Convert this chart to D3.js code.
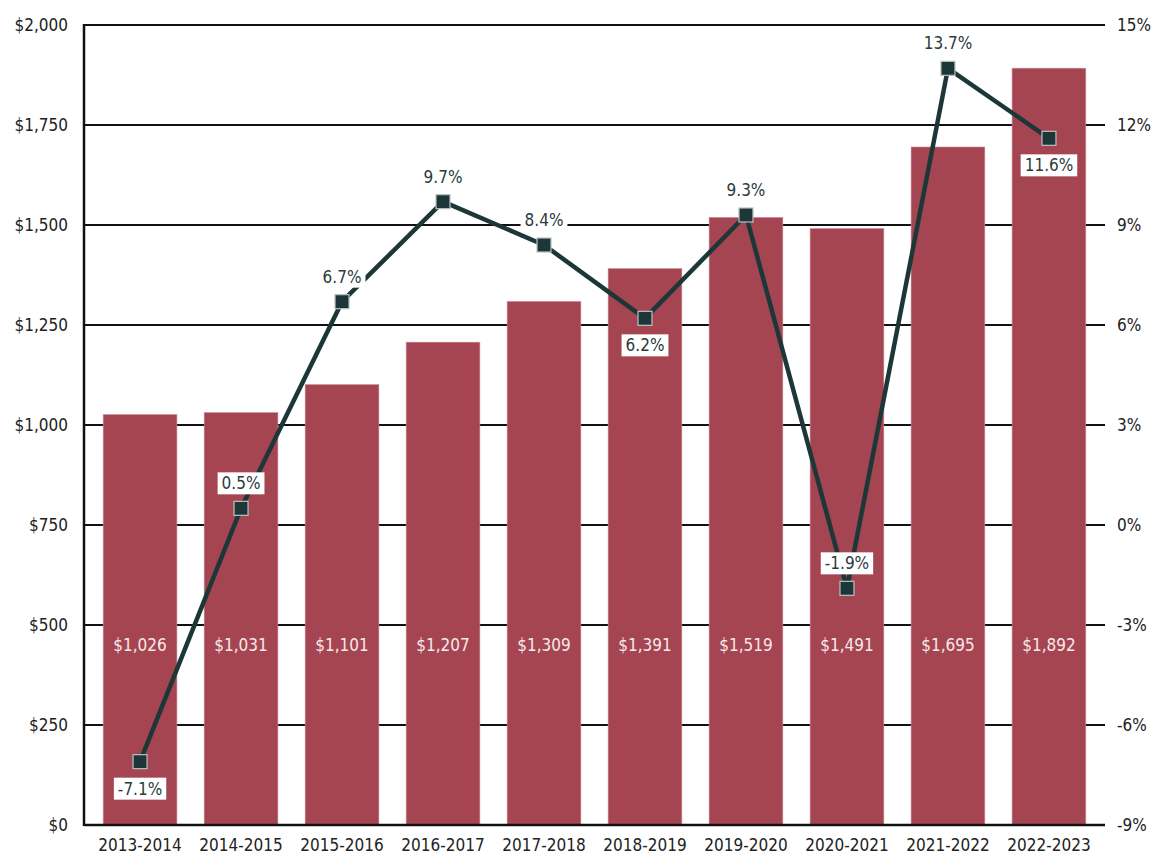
<!DOCTYPE html>
<html>
<head>
<meta charset="utf-8">
<script src="https://cdn.jsdelivr.net/npm/d3@7"></script>
<style>
  body { margin: 0; background: #fff; }
  text { font-family: "Liberation Sans Narrow", "DejaVu Sans Condensed", sans-serif; }
</style>
</head>
<body>
<div id="chart"></div>
<script>
const width = 1170
const height = 865

// data
const years = ["2013-2014", "2014-2015", "2015-2016", "2016-2017", "2017-2018",
  "2018-2019", "2019-2020", "2020-2021", "2021-2022", "2022-2023"];
const amounts = [1026, 1031, 1101, 1207, 1309, 1391, 1519, 1491, 1695, 1892];
const pctChange = [-7.1, 0.5, 6.7, 9.7, 8.4, 6.2, 9.3, -1.9, 13.7, 11.6];
const labelBelow = [true, false, false, false, false, true, false, false, false, true];
const leftTicks = [0, 250, 500, 750, 1000, 1250, 1500, 1750, 2000];
const rightTicks = [-9, -6, -3, 0, 3, 6, 9, 12, 15];

const plotLeft = 84, plotRight = 1105, plotTop = 25, plotBottom = 825;

const svg = d3.select("#chart")
  .append("svg")
  .attr("width", width)
  .attr("height", height)

const x = d3.scaleBand()
  .domain(years)
  .range([plotLeft, plotRight])
  .paddingInner(0.27)
  .paddingOuter(0.19)

const yAmt = d3.scaleLinear().domain([0, 2000]).range([plotBottom, plotTop])
const yPct = d3.scaleLinear().domain([-9, 15]).range([plotBottom, plotTop])

// gridlines
svg.append("g")
  .selectAll("line")
  .data(leftTicks)
  .join("line")
  .attr("x1", plotLeft)
  .attr("x2", plotRight)
  .attr("y1", d => yAmt(d))
  .attr("y2", d => yAmt(d))
  .attr("stroke", "#111")
  .attr("stroke-width", 2)

// bars
svg.append("g")
  .selectAll("rect")
  .data(amounts)
  .join("rect")
  .attr("x", (d, i) => x(years[i]))
  .attr("y", d => yAmt(d))
  .attr("width", x.bandwidth())
  .attr("height", d => plotBottom - yAmt(d))
  .attr("fill", "#a54552")
  .attr("stroke", "#c98a93")
  .attr("stroke-width", 0.6)

// value labels inside bars
svg.append("g")
  .selectAll("text")
  .data(amounts)
  .join("text")
  .attr("x", (d, i) => x(years[i]) + x.bandwidth() / 2)
  .attr("y", yAmt(500) + 26)
  .attr("text-anchor", "middle")
  .attr("font-size", 17)
  .attr("fill", "#f7e9eb")
  .text(d => "$" + d3.format(",")(d))

// axes lines
svg.append("line")
  .attr("x1", plotLeft).attr("x2", plotLeft)
  .attr("y1", plotTop - 1).attr("y2", plotBottom + 1)
  .attr("stroke", "#111").attr("stroke-width", 2.5)
svg.append("line")
  .attr("x1", plotLeft).attr("x2", plotRight)
  .attr("y1", plotBottom).attr("y2", plotBottom)
  .attr("stroke", "#111").attr("stroke-width", 2.5)

// left tick labels
svg.append("g")
  .selectAll("text")
  .data(leftTicks)
  .join("text")
  .attr("x", plotLeft - 16)
  .attr("y", d => yAmt(d) + 6)
  .attr("text-anchor", "end")
  .attr("font-size", 17)
  .attr("fill", "#222")
  .text(d => "$" + d3.format(",")(d))

// right tick labels
svg.append("g")
  .selectAll("text")
  .data(rightTicks)
  .join("text")
  .attr("x", plotRight + 12)
  .attr("y", d => yPct(d) + 6)
  .attr("text-anchor", "start")
  .attr("font-size", 17)
  .attr("fill", "#222")
  .text(d => d + "%")

// category labels
svg.append("g")
  .selectAll("text")
  .data(years)
  .join("text")
  .attr("x", d => x(d) + x.bandwidth() / 2)
  .attr("y", plotBottom + 26)
  .attr("text-anchor", "middle")
  .attr("font-size", 17)
  .attr("fill", "#222")
  .text(d => d)

// percent change line
const pts = pctChange.map((d, i) => [x(years[i]) + x.bandwidth() / 2, yPct(d)]);

svg.append("path")
  .attr("d", d3.line()(pts))
  .attr("fill", "none")
  .attr("stroke", "#1d3739")
  .attr("stroke-width", 4.5)
  .attr("stroke-linejoin", "round")

svg.append("g")
  .selectAll("rect")
  .data(pts)
  .join("rect")
  .attr("x", d => d[0] - 7)
  .attr("y", d => d[1] - 7)
  .attr("width", 14)
  .attr("height", 14)
  .attr("fill", "#1d3739")
  .attr("stroke", "#b9c2c2")
  .attr("stroke-width", 1.2)

// percent labels with white boxes
const pctLabels = svg.append("g")
  .selectAll("g")
  .data(pctChange)
  .join("g")
  .attr("transform", (d, i) => `translate(${pts[i][0]},${pts[i][1] + (labelBelow[i] ? 27 : -25)})`)

pctLabels.append("rect")
  .attr("x", -21)
  .attr("y", -11)
  .attr("width", 42)
  .attr("height", 22)
  .attr("fill", "white")

pctLabels.append("text")
  .attr("text-anchor", "middle")
  .attr("y", 6)
  .attr("font-size", 17)
  .attr("fill", "#2a3b3d")
  .text(d => d.toFixed(1) + "%")

pctLabels.each(function () {
  const g = d3.select(this);
  const w = g.select("text").node().getComputedTextLength() + 8;
  g.select("rect").attr("x", -w / 2).attr("width", w);
});
</script>
</body>
</html>
